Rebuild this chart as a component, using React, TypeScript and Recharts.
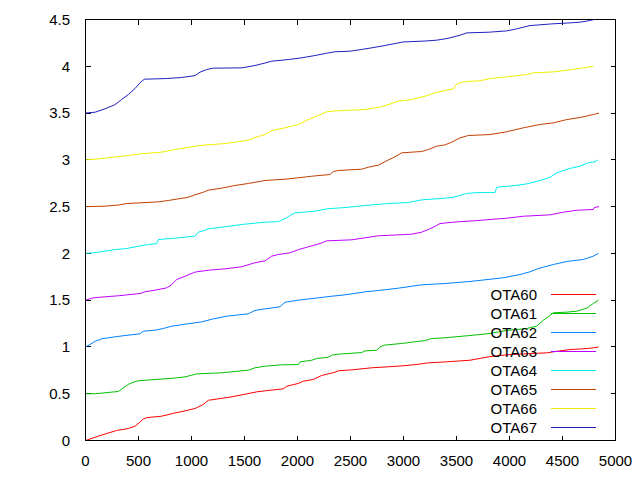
import React from 'react';
import { LineChart, Line, XAxis, YAxis, Legend, ReferenceArea, ReferenceLine } from 'recharts';

type Pt = [number, number];

const OTA60: Pt[] = [[0,0],[121,0.046],[200,0.075],[294,0.107],[404,0.128],[467,0.153],[514,0.196],[545,0.23],[580,0.245],[719,0.26],[828,0.29],[939,0.317],[1033,0.342],[1111,0.385],[1159,0.43],[1253,0.445],[1379,0.467],[1505,0.495],[1615,0.52],[1694,0.531],[1866,0.552],[1898,0.58],[2008,0.61],[2055,0.634],[2149,0.652],[2228,0.695],[2354,0.73],[2385,0.745],[2511,0.755],[2700,0.777],[2857,0.788],[3014,0.8],[3140,0.815],[3234,0.83],[3392,0.84],[3627,0.858],[3816,0.897],[4005,0.919],[4351,0.937],[4476,0.958],[4571,0.972],[4696,0.98],[4790,0.99],[4840,1.0]];
const OTA61: Pt[] = [[0,0.5],[94,0.5],[184,0.51],[310,0.524],[357,0.563],[404,0.6],[451,0.624],[498,0.638],[624,0.649],[828,0.666],[939,0.68],[1002,0.698],[1049,0.712],[1285,0.724],[1379,0.734],[1536,0.752],[1599,0.777],[1694,0.794],[1851,0.809],[2008,0.812],[2024,0.84],[2134,0.858],[2181,0.876],[2291,0.89],[2322,0.912],[2385,0.923],[2606,0.94],[2637,0.958],[2747,0.965],[2778,1.0],[2825,1.02],[2983,1.037],[3077,1.05],[3203,1.069],[3266,1.09],[3392,1.098],[3627,1.122],[3816,1.144],[3973,1.176],[4162,1.197],[4256,1.222],[4319,1.286],[4366,1.322],[4413,1.365],[4539,1.372],[4634,1.382],[4728,1.414],[4790,1.464],[4840,1.5]];
const OTA62: Pt[] = [[0,1.0],[42,1.026],[90,1.06],[153,1.087],[278,1.108],[373,1.122],[514,1.14],[545,1.168],[656,1.179],[734,1.197],[813,1.222],[939,1.243],[1096,1.268],[1206,1.3],[1332,1.329],[1536,1.354],[1599,1.39],[1694,1.407],[1835,1.429],[1882,1.478],[2008,1.5],[2165,1.521],[2322,1.542],[2448,1.557],[2637,1.589],[2762,1.603],[2951,1.628],[3172,1.664],[3392,1.678],[3627,1.7],[3941,1.739],[4099,1.774],[4193,1.803],[4272,1.838],[4413,1.881],[4539,1.913],[4696,1.935],[4790,1.97],[4840,2.0]];
const OTA63: Pt[] = [[0,1.5],[74,1.525],[184,1.536],[310,1.547],[420,1.56],[514,1.571],[561,1.589],[656,1.607],[766,1.632],[813,1.667],[860,1.72],[939,1.756],[1033,1.8],[1159,1.82],[1316,1.835],[1474,1.857],[1599,1.9],[1694,1.92],[1756,1.97],[1819,1.988],[1929,2.006],[2008,2.04],[2102,2.07],[2212,2.105],[2275,2.134],[2511,2.145],[2762,2.188],[2951,2.198],[3077,2.205],[3172,2.227],[3234,2.255],[3300,2.29],[3344,2.319],[3502,2.337],[3658,2.348],[3816,2.362],[3973,2.376],[4130,2.397],[4382,2.412],[4508,2.44],[4634,2.461],[4790,2.469],[4800,2.49],[4845,2.5]];
const OTA64: Pt[] = [[0,2.0],[74,2.006],[184,2.024],[278,2.04],[389,2.052],[498,2.077],[593,2.095],[672,2.105],[687,2.148],[844,2.163],[1033,2.184],[1064,2.227],[1127,2.248],[1159,2.263],[1316,2.284],[1474,2.309],[1630,2.327],[1694,2.333],[1819,2.34],[1898,2.38],[1929,2.405],[1976,2.433],[2165,2.451],[2275,2.476],[2448,2.49],[2637,2.512],[2857,2.533],[3045,2.544],[3172,2.572],[3392,2.59],[3470,2.6],[3596,2.64],[3691,2.65],[3863,2.65],[3879,2.707],[4052,2.725],[4162,2.743],[4288,2.779],[4382,2.814],[4445,2.861],[4555,2.904],[4665,2.932],[4743,2.968],[4807,2.98],[4835,3.0]];
const OTA65: Pt[] = [[0,2.5],[184,2.505],[325,2.519],[389,2.533],[514,2.54],[687,2.551],[781,2.565],[876,2.583],[970,2.6],[1033,2.626],[1111,2.654],[1159,2.676],[1285,2.697],[1410,2.726],[1536,2.747],[1662,2.772],[1694,2.779],[1882,2.793],[2008,2.808],[2134,2.825],[2306,2.843],[2338,2.875],[2385,2.886],[2606,2.9],[2668,2.921],[2762,2.943],[2842,2.99],[2920,3.032],[2983,3.075],[3172,3.089],[3234,3.11],[3313,3.146],[3392,3.16],[3455,3.189],[3533,3.235],[3612,3.26],[3816,3.27],[3973,3.3],[4130,3.342],[4288,3.378],[4413,3.395],[4539,3.43],[4665,3.452],[4790,3.484],[4845,3.5]];
const OTA66: Pt[] = [[0,3.0],[121,3.01],[262,3.028],[404,3.046],[514,3.064],[719,3.082],[844,3.11],[1002,3.139],[1111,3.157],[1285,3.171],[1442,3.193],[1536,3.21],[1599,3.239],[1694,3.27],[1756,3.313],[1882,3.342],[2008,3.378],[2102,3.43],[2196,3.474],[2275,3.513],[2370,3.524],[2637,3.538],[2794,3.567],[2951,3.627],[3077,3.645],[3203,3.68],[3297,3.716],[3392,3.741],[3470,3.759],[3502,3.812],[3549,3.83],[3596,3.837],[3722,3.845],[3816,3.869],[3973,3.887],[4162,3.912],[4225,3.93],[4413,3.94],[4571,3.962],[4696,3.983],[4790,4.0]];
const OTA67: Pt[] = [[0,3.5],[90,3.509],[184,3.545],[278,3.59],[341,3.645],[404,3.698],[467,3.762],[514,3.823],[555,3.862],[766,3.869],[907,3.88],[1033,3.9],[1080,3.937],[1143,3.965],[1206,3.98],[1474,3.983],[1599,4.008],[1694,4.035],[1756,4.054],[1913,4.072],[2039,4.09],[2165,4.115],[2275,4.14],[2354,4.155],[2495,4.161],[2606,4.18],[2700,4.197],[2825,4.222],[2920,4.243],[2998,4.26],[3203,4.27],[3313,4.279],[3392,4.293],[3439,4.304],[3533,4.332],[3596,4.357],[3800,4.364],[3973,4.378],[4068,4.4],[4193,4.435],[4398,4.453],[4571,4.464],[4665,4.471],[4743,4.486],[4800,4.5]];

const SERIES_NAMES = ['OTA60', 'OTA61', 'OTA62', 'OTA63', 'OTA64', 'OTA65', 'OTA66', 'OTA67'];
const SERIES_COLORS = ['#ff0000', '#00c000', '#0080ff', '#c000ff', '#00eeee', '#c04000', '#eeee00', '#2020c0'];
const SERIES_POINTS = [OTA60, OTA61, OTA62, OTA63, OTA64, OTA65, OTA66, OTA67];

const X_TICKS = [0, 500, 1000, 1500, 2000, 2500, 3000, 3500, 4000, 4500, 5000];
const Y_TICKS = [0, 0.5, 1, 1.5, 2, 2.5, 3, 3.5, 4, 4.5];

const FONT = "'Liberation Sans', Arial, sans-serif";
const FONT_SIZE = 15;
const TIC = 5;

const labelStyle = { fill: '#000', fontSize: FONT_SIZE, fontFamily: FONT };

// Inward tick marks at both ends of a vertical reference line (bottom + top border)
const XTickShape = (props: any) => {
  const { x1, y1, y2 } = props;
  const top = Math.min(y1, y2);
  const bottom = Math.max(y1, y2);
  return (
    <g shapeRendering="crispEdges">
      <line x1={x1} y1={bottom} x2={x1} y2={bottom - TIC} stroke="#000" strokeWidth={1} />
      <line x1={x1} y1={top} x2={x1} y2={top + TIC} stroke="#000" strokeWidth={1} />
    </g>
  );
};

// Inward tick marks at both ends of a horizontal reference line (left + right border)
const YTickShape = (props: any) => {
  const { x1, x2, y1 } = props;
  const left = Math.min(x1, x2);
  const right = Math.max(x1, x2);
  return (
    <g shapeRendering="crispEdges">
      <line x1={left} y1={y1} x2={left + TIC} y2={y1} stroke="#000" strokeWidth={1} />
      <line x1={right} y1={y1} x2={right - TIC} y2={y1} stroke="#000" strokeWidth={1} />
    </g>
  );
};

const LegendContent = () => (
  <svg width={130} height={160} style={{ display: 'block', overflow: 'visible' }}>
    {SERIES_NAMES.map((name, i) => {
      const cy = 10.5 + i * 19;
      return (
        <g key={name}>
          <text x={57} y={cy} textAnchor="end" dominantBaseline="central" fontFamily={FONT} fontSize={FONT_SIZE} fill="#000">
            {name}
          </text>
          <line x1={71} y1={cy} x2={116} y2={cy} stroke={SERIES_COLORS[i]} strokeWidth={1} shapeRendering="crispEdges" />
        </g>
      );
    })}
  </svg>
);

export default function App() {
  return (
    <div style={{ position: 'absolute', left: 0, top: 0, width: 640, height: 480, background: '#fff' }}>
      <LineChart width={640} height={480} margin={{ top: 19.5, right: 24.5, bottom: 0, left: 0 }}>
        <XAxis
          xAxisId="bottom"
          type="number"
          dataKey="x"
          domain={[0, 5000]}
          ticks={X_TICKS}
          interval={0}
          height={39.5}
          axisLine={{ stroke: '#000', shapeRendering: 'crispEdges' }}
          tickLine={false}
          tickSize={-5}
          tickMargin={20}
          tick={labelStyle}
          allowDataOverflow
        />
        <YAxis
          yAxisId="left"
          type="number"
          domain={[0, 4.5]}
          ticks={Y_TICKS}
          interval={0}
          width={85.5}
          axisLine={{ stroke: '#000', shapeRendering: 'crispEdges' }}
          tickLine={false}
          tickSize={-5}
          tickMargin={20.5}
          tick={labelStyle}
          allowDataOverflow
        />
        <ReferenceArea
          xAxisId="bottom"
          yAxisId="left"
          x1={0}
          x2={5000}
          y1={0}
          y2={4.5}
          fill="none"
          fillOpacity={0}
          stroke="#000"
          strokeWidth={1}
          shapeRendering="crispEdges"
          ifOverflow="visible"
        />
        {X_TICKS.map((t) => (
          <ReferenceLine key={'x' + t} xAxisId="bottom" yAxisId="left" x={t} ifOverflow="visible" shape={XTickShape} />
        ))}
        {Y_TICKS.map((t) => (
          <ReferenceLine key={'y' + t} xAxisId="bottom" yAxisId="left" y={t} ifOverflow="visible" shape={YTickShape} />
        ))}
        {SERIES_NAMES.map((name, i) => (
          <Line
            key={name}
            name={name}
            data={SERIES_POINTS[i].map(([x, y]) => ({ x, y }))}
            dataKey="y"
            xAxisId="bottom"
            yAxisId="left"
            type="linear"
            stroke={SERIES_COLORS[i]}
            strokeWidth={1}
            dot={false}
            activeDot={false}
            isAnimationActive={false}
          />
        ))}
        <Legend
          layout="vertical"
          align="center"
          verticalAlign="middle"
          content={<LegendContent />}
          wrapperStyle={{ position: 'absolute', left: 480, top: 284, width: 130, height: 160 }}
        />
      </LineChart>
    </div>
  );
}
